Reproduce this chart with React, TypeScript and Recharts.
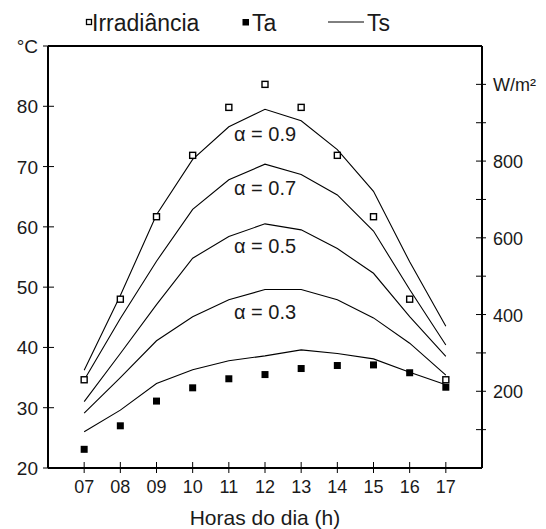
import React from 'react';
import {
  ComposedChart,
  Line,
  Scatter,
  XAxis,
  YAxis,
  ReferenceLine,
  ReferenceDot,
  Legend,
  Label,
} from 'recharts';

// ---- data ----
const hours = [7, 8, 9, 10, 11, 12, 13, 14, 15, 16, 17];
const irradiance = [230, 440, 655, 815, 940, 1000, 940, 815, 655, 440, 230];
const ta = [23.1, 27.0, 31.1, 33.3, 34.8, 35.5, 36.5, 37.0, 37.1, 35.8, 33.4];
const ts01 = [26.0, 29.6, 34.0, 36.3, 37.8, 38.6, 39.6, 39.0, 38.1, 35.9, 33.8];
const ts03 = [29.1, 35.0, 41.1, 45.1, 47.9, 49.6, 49.6, 47.9, 44.9, 40.7, 35.4];
const ts05 = [31.0, 39.0, 47.1, 54.8, 58.4, 60.5, 59.5, 56.4, 52.3, 45.1, 38.5];
const ts07 = [34.6, 44.8, 54.3, 62.9, 67.8, 70.4, 68.7, 65.3, 59.3, 49.6, 40.4];
const ts09 = [36.2, 48.6, 62.0, 71.2, 76.6, 79.5, 77.6, 72.8, 65.9, 54.2, 43.5];

const tempTicks = [20, 30, 40, 50, 60, 70, 80, 90];
const irrTicks = [100, 200, 300, 400, 500, 600, 700, 800, 900, 1000];
const irrLabels: Record<number, string> = { 200: '200', 400: '400', 600: '600', 800: '800', 1000: 'W/m²' };
const alphaTexts = ['α = 0.9', 'α = 0.7', 'α = 0.5', 'α = 0.3'];
const alphaAnchorT = [75.5, 66.4, 56.8, 45.9];
const alphaAnchorHour = 12;

const data = hours.map((h, i) => ({
  h,
  irr: irradiance[i],
  ta: ta[i],
  t1: ts01[i],
  t3: ts03[i],
  t5: ts05[i],
  t7: ts07[i],
  t9: ts09[i],
}));

const FONT = '"Liberation Sans", Arial, Helvetica, sans-serif';
const TXT = '#1a1a1a';

const LeftTick = (p: any) => {
  const { x, y, payload } = p;
  const ax = x + 10;
  return (
    <g>
      <line x1={ax - 5} x2={ax + 6} y1={y} y2={y} stroke="#000" strokeWidth={1} />
      <text x={x} y={y + 7} textAnchor="end" fontSize={19} fontFamily={FONT} fill={TXT}>
        {payload.value === 90 ? '°C' : String(payload.value)}
      </text>
    </g>
  );
};

const RightTick = (p: any) => {
  const { x, y, payload } = p;
  const ax = x - 10;
  const lab = irrLabels[payload.value] || '';
  return (
    <g>
      <line x1={ax - 6} x2={ax + 4} y1={y} y2={y} stroke="#000" strokeWidth={1} />
      {lab ? (
        <text x={x + 1} y={y + 7} textAnchor="start" fontSize={18} fontFamily={FONT} fill={TXT}>
          {lab}
        </text>
      ) : null}
    </g>
  );
};

const BottomTick = (p: any) => {
  const { x, y, payload } = p;
  const ay = y - 25;
  return (
    <g>
      <line x1={x} x2={x} y1={ay - 6} y2={ay + 5} stroke="#000" strokeWidth={1} />
      <text x={x} y={y} textAnchor="middle" fontSize={18} fontFamily={FONT} fill={TXT}>
        {String(payload.value).padStart(2, '0')}
      </text>
    </g>
  );
};

const OpenSquare = (p: any) => (
  <rect x={p.cx - 3} y={p.cy - 3} width={6} height={6} fill="#fff" stroke="#000" strokeWidth={1.4} />
);
const FilledSquare = (p: any) => (
  <rect x={p.cx - 3.5} y={p.cy - 3.5} width={7} height={7} fill="#000" />
);

const LegendContent = () => (
  <svg width={546} height={36} style={{ display: 'block' }}>
    <rect x={86.5} y={19.5} width={5} height={5} fill="#fff" stroke="#000" strokeWidth={1.3} />
    <text x={92} y={31} fontSize={23} fontFamily={FONT} fill={TXT}>Irradiância</text>
    <rect x={242.5} y={19} width={6.5} height={6.5} fill="#000" />
    <text x={252} y={31} fontSize={23} fontFamily={FONT} fill={TXT}>Ta</text>
    <line x1={328} x2={364} y1={22} y2={22} stroke="#000" strokeWidth={1} />
    <text x={367} y={31} fontSize={23} fontFamily={FONT} fill={TXT}>Ts</text>
  </svg>
);

export default function App() {
  return (
    <div style={{ position: 'absolute', left: 0, top: 0, background: '#fff' }}>
      <ComposedChart
        width={546}
        height={529}
        data={data}
        margin={{ top: 46, right: 0, bottom: 0, left: 0 }}
        style={{ fontFamily: FONT }}
      >
        <XAxis
          dataKey="h"
          type="number"
          domain={[6, 18]}
          ticks={hours}
          interval={0}
          height={61}
          tickSize={0}
          tickMargin={25}
          tickLine={false}
          axisLine={{ stroke: '#000', strokeWidth: 2 }}
          tick={BottomTick}
        >
          <Label
            value="Horas do dia (h)"
            position="insideBottom"
            offset={4}
            style={{ fontSize: 21, fontFamily: FONT, fill: TXT }}
          />
        </XAxis>
        <YAxis
          yAxisId="T"
          orientation="left"
          type="number"
          domain={[20, 90]}
          ticks={tempTicks}
          interval={0}
          width={48}
          tickSize={0}
          tickMargin={10}
          tickLine={false}
          axisLine={{ stroke: '#000', strokeWidth: 2 }}
          tick={LeftTick}
        />
        <YAxis
          yAxisId="I"
          orientation="right"
          type="number"
          domain={[0, 1100]}
          ticks={irrTicks}
          interval={0}
          width={64}
          tickSize={0}
          tickMargin={10}
          tickLine={false}
          axisLine={{ stroke: '#000', strokeWidth: 2 }}
          tick={RightTick}
        />
        <ReferenceLine yAxisId="T" y={90} stroke="#000" strokeWidth={2} />
        <Legend
          layout="horizontal"
          verticalAlign="middle"
          align="center"
          wrapperStyle={{ top: 0, left: 0, width: 546, height: 36 }}
          content={LegendContent}
        />
        {(['t1', 't3', 't5', 't7', 't9'] as const).map((k) => (
          <Line
            key={k}
            yAxisId="T"
            dataKey={k}
            type="linear"
            stroke="#000"
            strokeWidth={1.1}
            dot={false}
            activeDot={false}
            isAnimationActive={false}
          />
        ))}
        {alphaTexts.map((t, i) => (
          <ReferenceDot
            key={t}
            yAxisId="T"
            x={alphaAnchorHour}
            y={alphaAnchorT[i]}
            r={0}
            fill="none"
            stroke="none"
            label={{ value: t, position: 'center', fontSize: 20, fontFamily: FONT, fill: TXT }}
          />
        ))}
        <Scatter yAxisId="I" dataKey="irr" shape={OpenSquare} isAnimationActive={false} />
        <Scatter yAxisId="T" dataKey="ta" shape={FilledSquare} isAnimationActive={false} />
      </ComposedChart>
    </div>
  );
}
